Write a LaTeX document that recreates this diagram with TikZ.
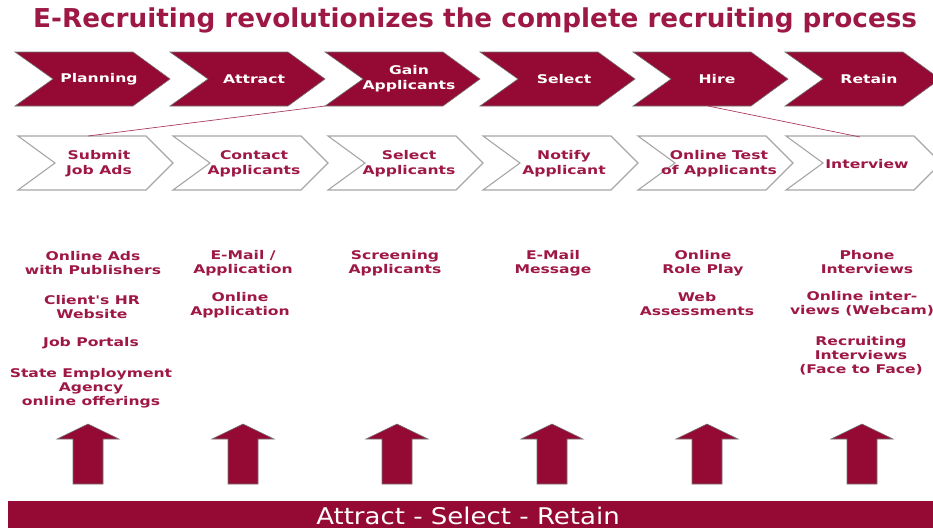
\documentclass[tikz,border=0pt]{standalone}
\usepackage{fontspec}
\setmainfont{DejaVu Sans}
\newfontfamily\lblfont[FakeStretch=1.3]{DejaVu Sans}
\newfontfamily\barfont[FakeStretch=1.13]{DejaVu Sans}
\newfontfamily\titlefont[FakeStretch=1.01]{DejaVu Sans}
\definecolor{crim}{RGB}{148,10,52}
\definecolor{crimtxt}{RGB}{158,24,70}
\begin{document}
\begin{tikzpicture}[x=1pt,y=-1pt,
  topchev/.style={fill=crim,draw=black!55,line width=0.6pt},
  wchev/.style={draw=black!35,line width=1.1pt},
  toptxt/.style={font={\lblfont\bfseries\fontsize{12}{15}\selectfont},text=white,align=center,inner sep=0pt},
  chtxt/.style={font={\lblfont\bfseries\fontsize{12}{15}\selectfont},text=crimtxt,align=center,inner sep=0pt},
  listtxt/.style={font={\lblfont\bfseries\fontsize{12}{14}\selectfont},text=crimtxt,align=center,inner sep=0pt},
  uparrow/.style={fill=crim,draw=black!55,line width=0.6pt},
  link/.style={draw=crimtxt!85,line width=0.7pt}]
\useasboundingbox (0,0) rectangle (933,528);

% title
\node[anchor=base west,inner sep=0pt,text=crimtxt,font={\titlefont\bfseries\fontsize{26}{30}\selectfont}] (title) at (33,27)
  {E-Recruiting revolutionizes the complete recruiting process};

% top chevrons
\foreach \L/\nm/\txt in {15/plan/Planning, 170/attr/Attract, 325/gain/{Gain\\Applicants}, 480/sel/Select, 633/hire/Hire, 785/ret/Retain}{
  \draw[topchev] (\L,52) -- ++(118,0) -- ++(37,27) -- ++(-37,27) -- ++(-118,0) -- ++(38,-27) -- cycle;
  \node[toptxt] (\nm) at (\L+84,79) {\txt};
}
\coordinate (gain-bl) at (325,106);
\coordinate (hire-b) at (708,106);

% second-row chevrons
\foreach \L/\nm/\txt in {18/sub/{Submit\\Job Ads}, 173/con/{Contact\\Applicants}, 328/sela/{Select\\Applicants}, 483/noti/{Notify\\Applicant}, 638/test/{Online Test\\of Applicants}, 786/intv/Interview}{
  \draw[wchev] (\L,136) -- ++(128,0) -- ++(27,27) -- ++(-27,27) -- ++(-128,0) -- ++(37,-27) -- cycle;
  \node[chtxt] (\nm) at (\L+81,164) {\txt};
}
\coordinate (sub-t) at (88,136);
\coordinate (intv-t) at (860,137);

\draw[link] (gain-bl) -- (sub-t);
\draw[link] (hire-b) -- (intv-t);

% lists
\node[listtxt] (l1a) at (93,263) {Online Ads\\with Publishers};
\node[listtxt] (l1b) at (92,307) {Client's HR\\Website};
\node[listtxt] (l1c) at (91,343) {Job Portals};
\node[listtxt] (l1d) at (91,388) {State Employment\\Agency\\online offerings};

\node[listtxt] (l2a) at (243,263) {E-Mail /\\Application};
\node[listtxt] (l2b) at (240,305) {Online\\Application};

\node[listtxt] (l3a) at (395,263) {Screening\\Applicants};

\node[listtxt] (l4a) at (553,263) {E-Mail\\Message};

\node[listtxt] (l5a) at (703,263) {Online\\Role Play};
\node[listtxt] (l5b) at (697,304) {Web\\Assessments};

\node[listtxt] (l6a) at (867,262) {Phone\\Interviews};
\node[listtxt] (l6b) at (862,304) {Online inter-\\views (Webcam)};
\node[listtxt] (l6c) at (861,356) {Recruiting\\Interviews\\(Face to Face)};

% arrows
\foreach \c in {88,243,397,552,707,862}{
  \draw[uparrow] (\c,424) -- (\c+31,439) -- (\c+15,439) -- (\c+15,484) -- (\c-15,484) -- (\c-15,439) -- (\c-31,439) -- cycle;
}

% bottom bar
\fill[crim] (8,501) rectangle (940,528);
\node[anchor=base,inner sep=0pt,text=white,font={\barfont\fontsize{23}{26}\selectfont}] (bar) at (468,524) {Attract - Select - Retain};
\end{tikzpicture}
\end{document}
